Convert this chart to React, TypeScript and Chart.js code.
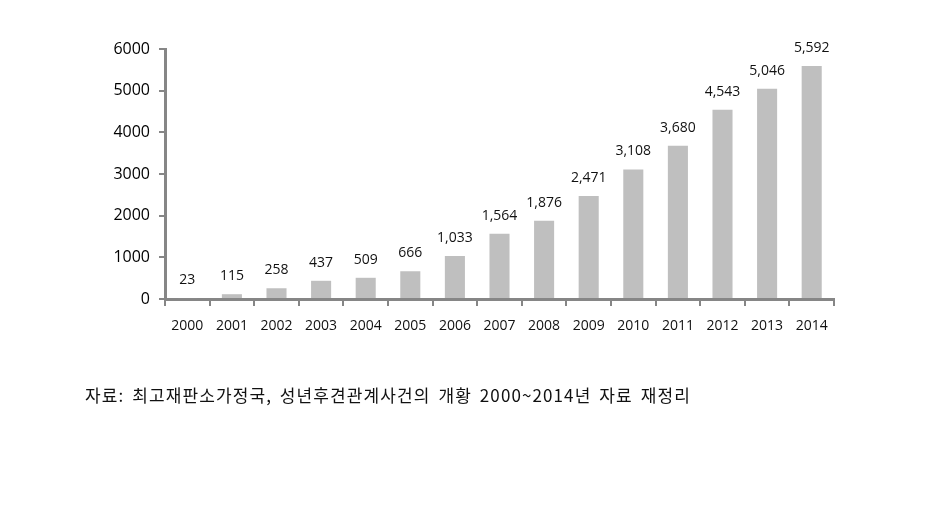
import React, { useEffect, useRef } from "react";
import { Chart, registerables } from "chart.js";

Chart.register(...registerables);

const categories = ["2000", "2001", "2002", "2003", "2004", "2005", "2006", "2007", "2008", "2009", "2010", "2011", "2012", "2013", "2014"];
const values = [23, 115, 258, 437, 509, 666, 1033, 1564, 1876, 2471, 3108, 3680, 4543, 5046, 5592];
const yTicks = [0, 1000, 2000, 3000, 4000, 5000, 6000];
const caption = "자료: 최고재판소가정국, 성년후견관계사건의 개황 2000~2014년 자료 재정리";

const AXIS = "#868686";
const FONT = "'Open Sans', 'DejaVu Sans', sans-serif";

const labelPlugin = {
  id: "barLabels",
  afterDatasetsDraw(chart: any) {
    const ctx = chart.ctx;
    const meta = chart.getDatasetMeta(0);
    ctx.save();
    ctx.font = `14px ${FONT}`;
    ctx.fillStyle = "#111";
    ctx.textAlign = "center";
    ctx.textBaseline = "middle";
    meta.data.forEach((el: any, i: number) => {
      const v = chart.data.datasets[0].data[i] as number;
      ctx.fillText(v.toLocaleString("en-US"), el.x, el.y - 18);
    });
    ctx.restore();
  },
};

export default function App() {
  const ref = useRef<HTMLCanvasElement>(null);
  useEffect(() => {
    if (!ref.current) return;
    const chart = new Chart(ref.current, {
      type: "bar",
      data: {
        labels: categories,
        datasets: [
          {
            data: values,
            backgroundColor: "#BFBFBF",
            borderWidth: 0,
            barPercentage: 0.45,
            categoryPercentage: 1,
          },
        ],
      },
      options: {
        animation: false,
        responsive: false,
        layout: { padding: { left: 0, top: 49, right: 105, bottom: 166 } },
        plugins: { legend: { display: false }, tooltip: { enabled: false } },
        scales: {
          x: {
            offset: true,
            afterFit: (s: any) => { s.height = 40; },
            grid: { display: true, drawOnChartArea: false, drawTicks: true, tickLength: 7, color: AXIS, lineWidth: 2, offset: true },
            border: { display: true, color: AXIS, width: 3 },
            ticks: { color: "#111", font: { family: FONT, size: 14 }, padding: 12, maxRotation: 0 },
          },
          y: {
            min: 0,
            max: 6000,
            afterFit: (s: any) => { s.width = 165; },
            afterBuildTicks: (s: any) => { s.ticks = yTicks.map((v) => ({ value: v })); },
            grid: { display: true, drawOnChartArea: false, drawTicks: true, tickLength: 6, color: AXIS, lineWidth: 2 },
            border: { display: true, color: AXIS, width: 3 },
            ticks: {
              color: "#000",
              font: { family: FONT, size: 16 },
              padding: 9,
              callback: (v: any) => String(v),
            },
          },
        },
      },
      plugins: [labelPlugin],
    });
    return () => chart.destroy();
  }, []);

  return (
    <div style={{ position: "fixed", left: 0, top: 0, width: 939, height: 505, background: "#fff" }}>
      <canvas ref={ref} width={939} height={505} style={{ position: "absolute", left: 0, top: 0, width: 939, height: 505 }} />
      <div
        style={{
          position: "absolute",
          left: 85,
          top: 383,
          fontFamily: "'Noto Sans CJK KR', sans-serif",
          fontSize: 17,
          lineHeight: "24px",
          letterSpacing: "1.1px",
          wordSpacing: "3px",
          color: "#111",
          whiteSpace: "nowrap",
        }}
      >
        {caption}
      </div>
    </div>
  );
}
